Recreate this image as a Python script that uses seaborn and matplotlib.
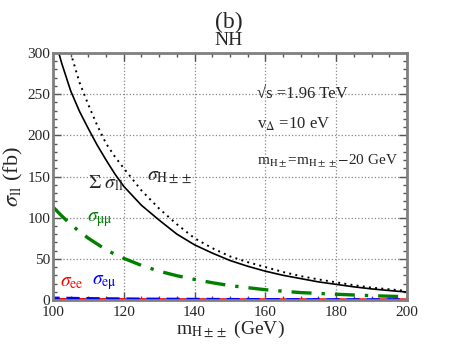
import numpy as np
import pandas as pd
import matplotlib
matplotlib.use("Agg")
import matplotlib.pyplot as plt
import seaborn as sns

# masses (GeV)
mass = [100, 102.5, 105, 107.5, 110, 112.5, 115, 117.5, 120, 125, 130, 135,
        140, 145, 150, 155, 160, 165, 170, 175, 180, 185, 190, 195, 200]
# cross sections (fb)
sigma_hpp = [370, 333, 300, 264, 237, 212, 190, 174, 160, 133, 111, 92,
             75, 63, 53, 46, 40, 34, 29, 25, 21.5, 18, 15, 13, 11]
sigma_ll = [325, 287, 254, 229, 208, 188, 170, 153, 138, 115, 97, 80,
            67, 57, 48, 41, 35, 30, 26, 22, 19, 16, 13.5, 11.5, 9.7]
sigma_mumu = [113, 102, 92, 83, 75, 68, 61, 55.5, 50.6, 42, 35, 29.5,
              25, 21, 17.5, 15, 12.5, 10.7, 9, 8, 7, 6.1, 5.3, 4.6, 4]
sigma_ee = [0.5, 0.48, 0.45, 0.42, 0.4, 0.37, 0.35, 0.32, 0.3, 0.28, 0.25, 0.22,
            0.2, 0.18, 0.16, 0.15, 0.13, 0.12, 0.11, 0.1, 0.09, 0.08, 0.07, 0.06, 0.05]
sigma_emu = [2.2, 2.0, 1.9, 1.7, 1.6, 1.5, 1.4, 1.3, 1.2, 1.0, 0.9, 0.8,
             0.7, 0.6, 0.5, 0.45, 0.4, 0.35, 0.3, 0.27, 0.24, 0.21, 0.19, 0.17, 0.15]

sns.set_style("ticks")
plt.rcParams['font.family'] = ['Liberation Serif', 'DejaVu Serif']
plt.rcParams['mathtext.fontset'] = 'stix'

fig = plt.figure(figsize=(4.58, 3.54), dpi=100)
ax = fig.add_axes([0.1157, 0.1525, 0.7729, 0.6978])

df = pd.DataFrame({'m': mass, 'hpp': sigma_hpp, 'll': sigma_ll,
                   'mumu': sigma_mumu, 'ee': sigma_ee, 'emu': sigma_emu})

sns.lineplot(data=df, x='m', y='hpp', ax=ax, color='black', lw=1.4,
             linestyle=(0, (1, 2.2)))
sns.lineplot(data=df, x='m', y='ll', ax=ax, color='black', lw=1.2)
sns.lineplot(data=df, x='m', y='mumu', ax=ax, color='#008000', lw=2.4,
             linestyle=(0, (6, 3, 1, 3)))
sns.lineplot(data=df, x='m', y='ee', ax=ax, color='red', lw=2.4,
             linestyle=(0, (4, 2)))
sns.lineplot(data=df, x='m', y='emu', ax=ax, color='blue', lw=2.4,
             linestyle=(2, (4, 2)))

ax.set_xlim(100, 200)
ax.set_ylim(0, 300)
ax.set_xticks([100, 120, 140, 160, 180, 200])
ax.set_yticks([0, 50, 100, 150, 200, 250, 300])
ax.set_xticks(np.arange(100, 201, 5), minor=True)
ax.set_yticks(np.arange(0, 301, 10), minor=True)
ax.grid(True, which='major', linestyle=':', color='#888888', lw=0.9)
ax.tick_params(which='both', direction='in', top=True, right=True,
               labelsize=11, color='#555555', pad=2)
ax.tick_params(axis='x', pad=4)
ax.tick_params(which='major', length=6, width=1)
ax.tick_params(which='minor', length=3, width=1)
for s in ax.spines.values():
    s.set_color('#808080')
    s.set_linewidth(2)

ax.set_xlabel(r'm$_{\mathrm{H\pm\pm}}$ (GeV)', fontsize=14, labelpad=0)
ax.set_ylabel(r'$\sigma_{\mathrm{ll}}$ (fb)', fontsize=16)
ax.yaxis.set_label_coords(-0.078, 0.5)

fig.text(0.5, 0.937, '(b)', ha='center', va='center', fontsize=17)
fig.text(0.5, 0.885, 'NH', ha='center', va='center', fontsize=14)

ax.text(0.575, 0.835, '√s =1.96 TeV', transform=ax.transAxes,
        fontsize=12, va='center')
ax.text(0.575, 0.71, r'v$_\Delta$ =10 eV', transform=ax.transAxes,
        fontsize=12, va='center')
ax.text(0.575, 0.565, r'm$_{\mathrm{H\pm}}$=m$_{\mathrm{H\pm\pm}}$$-$20 GeV',
        transform=ax.transAxes, fontsize=11, va='center')

ax.text(0.1, 0.475, r'$\Sigma\ \sigma_{\mathrm{ll}}$', transform=ax.transAxes,
        fontsize=14, va='center')
ax.text(0.265, 0.495, r'$\sigma_{\mathrm{H\pm\pm}}$', transform=ax.transAxes,
        fontsize=14, va='center')
ax.text(0.095, 0.325, r'$\sigma_{\mathrm{\mu\mu}}$', transform=ax.transAxes,
        fontsize=14, va='center', color='#008000')
ax.text(0.02, 0.07, r'$\sigma_{\mathrm{ee}}$', transform=ax.transAxes,
        fontsize=14, va='center', color='red')
ax.text(0.11, 0.07, r'$\sigma_{\mathrm{e\mu}}$', transform=ax.transAxes,
        fontsize=14, va='center', color='blue')

fig.savefig('out.png', dpi=100)
